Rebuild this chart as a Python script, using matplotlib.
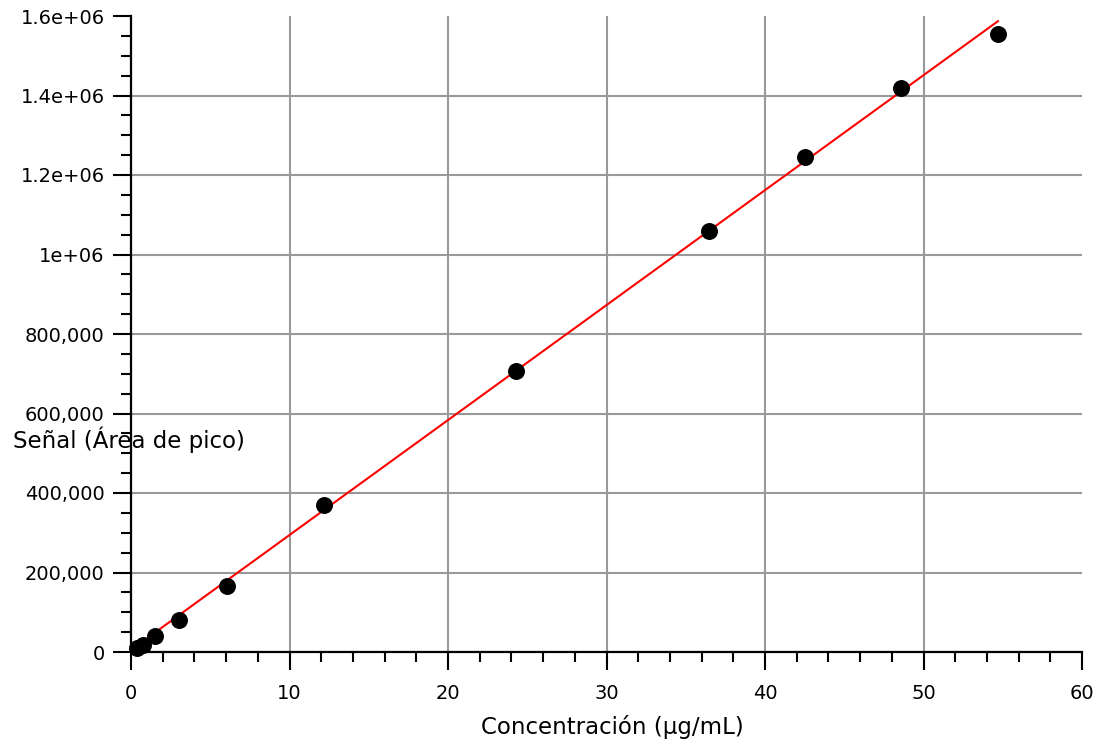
import matplotlib
matplotlib.use('Agg')
import matplotlib.pyplot as plt
from matplotlib.ticker import MultipleLocator, FixedLocator, FixedFormatter

# calibration data
conc = [0.38, 0.76, 1.52, 3.04, 6.08, 12.15, 24.3, 36.45, 42.55, 48.6, 54.7]
area = [10000, 18000, 40000, 80000, 165000, 370000, 707000, 1060000, 1245000, 1420000, 1555000]

# fitted line end points
fit_x = [0.1, 54.7]
fit_y = [8000, 1587000]

y_ticks = [0, 200000, 400000, 600000, 800000, 1000000, 1200000, 1400000, 1600000]
y_labels = ['0', '200,000', '400,000', '600,000', '800,000', '1e+06', '1.2e+06', '1.4e+06', '1.6e+06']
x_ticks = [0, 10, 20, 30, 40, 50, 60]

fig = plt.figure(figsize=(11, 7.44), dpi=100)
ax = fig.add_axes([131 / 1100, 1 - 652 / 744, 951 / 1100, 636 / 744])

ax.plot(fit_x, fit_y, color='red', lw=1.5, zorder=3)
ax.scatter(conc, area, s=125, color='black', zorder=4, clip_on=False)

ax.set_xlim(0, 60)
ax.set_ylim(0, 1600000)
ax.xaxis.set_major_locator(FixedLocator(x_ticks))
ax.xaxis.set_minor_locator(MultipleLocator(2))
ax.yaxis.set_major_locator(FixedLocator(y_ticks))
ax.yaxis.set_major_formatter(FixedFormatter(y_labels))
ax.yaxis.set_minor_locator(MultipleLocator(50000))

for s in ['top', 'right']:
    ax.spines[s].set_visible(False)
for s in ['left', 'bottom']:
    ax.spines[s].set_linewidth(1.6)

ax.tick_params(which='major', length=13, width=1.5, labelsize=14, direction='out')
ax.tick_params(which='minor', length=7.5, width=1.5, direction='out')
ax.tick_params(axis='y', which='major', pad=6)
ax.tick_params(axis='x', which='major', pad=10)

ax.grid(True, which='major', color='#999999', lw=1.5)
ax.set_axisbelow(True)
fig.canvas.draw()
ax.xaxis.get_gridlines()[-1].set_visible(False)
ax.yaxis.get_gridlines()[-1].set_visible(False)

ax.set_xlabel('Concentración (µg/mL)', fontsize=16.5)
ax.xaxis.set_label_coords(0.506, -0.118)
ax.xaxis.label.set_va('center')
ax.set_ylabel('Señal (Área de pico)', fontsize=16.5, rotation=0, ha='center', va='center')
ax.yaxis.set_label_coords(-0.002, 0.333)

fig.savefig('out.png', dpi=100)
